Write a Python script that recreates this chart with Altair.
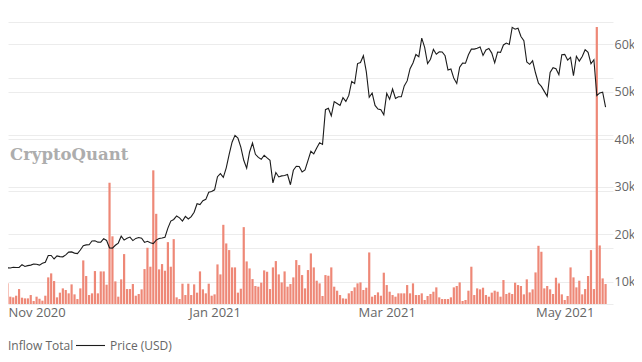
import altair as alt
import pandas as pd

# Daily series, 2020-10-22 .. 2021-05-15
dates = pd.date_range("2020-10-22", "2021-05-15", freq="D").strftime("%Y-%m-%d").tolist()

price_usd = [
    # Oct 22-31
    12965, 12931, 13108, 13031, 13075, 13654, 13272, 13437, 13546, 13781,
    # Nov
    13737, 13550, 13950, 14133, 15579, 15565, 14833, 15479, 15332, 15290,
    15701, 16276, 16317, 16068, 15955, 16716, 17645, 17804, 17817, 18621,
    18642, 18370, 18364, 19107, 18732, 17150, 17108, 17718, 18177, 19625,
    # Dec
    18802, 19201, 19445, 18699, 19154, 19345, 19191, 18321, 18553, 18264,
    18058, 18803, 19142, 19246, 19417, 21310, 22805, 23137, 23869, 23477,
    22803, 23783, 23241, 23735, 24664, 26437, 26272, 27084, 27362, 28840, 29001,
    # Jan
    29374, 32127, 32782, 31971, 33992, 36824, 39371, 40797, 40254, 38356,
    35566, 33922, 37316, 39187, 36825, 36178, 35792, 36630, 36069, 35548,
    30825, 33006, 32068, 32289, 32366, 32570, 30432, 33467, 34316, 34269, 33114,
    # Feb
    33538, 35510, 37472, 36926, 38144, 39266, 38904, 46196, 46481, 44919,
    47910, 47505, 47105, 48717, 47945, 49199, 52149, 51679, 55888, 56100,
    57539, 54207, 48825, 49705, 47093, 46339, 46188, 45137,
    # Mar
    49631, 48378, 50538, 48561, 48927, 48912, 51206, 52246, 54824, 56008,
    57805, 57332, 61243, 59302, 55907, 56804, 58870, 57858, 58346, 58313,
    57524, 54529, 54738, 52775, 51705, 55138, 55974, 55947, 57750, 58918, 58918,
    # Apr
    59095, 59384, 57604, 58759, 59058, 58091, 56048, 58323, 58246, 59793,
    60205, 59893, 63503, 63110, 63315, 61572, 60684, 56216, 55724, 56474,
    53907, 51763, 51094, 50050, 49004, 54022, 55034, 54824, 53555, 57750,
    # May 1-15
    57828, 56631, 57200, 53333, 57424, 56396, 57356, 58803, 58232, 55860,
    56704, 49150, 49716, 49880, 46760,
]

inflow_total = [
    3.66, 1.30, 1.18, 1.47, 2.65, 1.12, 1.00, 1.00, 1.59, 0.53,
    1.30, 0.94, 0.59, 1.47, 4.72, 5.43, 4.07, 1.18, 2.01, 2.77,
    2.48, 1.89, 3.48, 1.71, 0.88, 2.77, 7.73, 4.96, 1.59, 1.89,
    5.84, 1.89, 5.78, 5.78, 3.42, 21.5, 12.0, 4.01, 1.30, 4.37,
    8.85, 2.65, 2.65, 3.54, 1.47, 1.77, 2.60, 6.19, 9.97, 6.61,
    23.7, 15.99, 6.14, 7.08, 5.90, 10.97, 6.61, 11.50, 1.18, 0.88,
    3.60, 1.59, 3.60, 1.59, 3.48, 2.01, 5.78, 2.60, 1.89, 3.60,
    1.47, 1.71, 7.02, 5.25, 14.04, 10.74, 9.56, 6.49, 6.49, 2.01,
    2.71, 13.63, 7.55, 6.31, 4.42, 3.19, 3.07, 3.78, 5.96, 5.72,
    2.65, 6.49, 7.61, 5.25, 3.83, 5.78, 3.07, 3.54, 4.72, 7.79,
    6.90, 5.13, 2.77, 6.02, 8.97, 6.49, 4.13, 3.66,
    1.42, 5.13, 5.01, 6.49, 3.07, 2.36, 1.59, 1.00, 0.94, 1.89,
    2.30, 2.95, 3.66, 3.83, 2.48, 2.89, 9.14, 1.30, 1.59, 2.06,
    1.47, 5.55, 3.36, 2.18, 1.59, 1.30, 1.89, 1.89, 1.89, 3.36,
    1.89, 3.66, 1.59, 1.59, 1.89, 0.71, 1.42, 1.77, 2.18, 2.95,
    1.18, 0.88, 0.88, 0.88, 1.18, 2.95, 3.19, 3.83, 0.53, 0.71,
    2.36, 6.61, 1.59, 2.77, 2.60, 2.89, 1.59, 1.30, 2.01, 2.36,
    2.18, 1.30, 4.25, 1.77, 2.01, 1.77, 3.78, 3.36, 3.19, 1.71,
    4.37, 2.06, 2.60, 5.60, 10.32, 9.26, 2.77, 3.19, 2.60, 1.77,
    4.66, 3.66, 1.71, 0.71, 1.42, 6.49, 4.72, 2.95, 4.13, 1.71,
    2.65, 4.96, 9.56, 2.65, 49.1, 10.38, 4.54, 3.54,
]

price_ticks = [10000, 20000, 30000, 40000, 50000, 60000]
inflow_grid = [0, 10, 20, 30, 40, 50]
legend_labels = ["Inflow Total", "Price (USD)"]
watermark = ["CryptoQuant"]

df = pd.DataFrame({"date": dates, "inflow": inflow_total, "price": price_usd})

FONT = "Open Sans"
GRID = "#ececec"

x_scale = alt.Scale(
    type="utc",
    nice=False,
    domain=[
        alt.DateTime(year=2020, month=10, date=23, hours=22, minutes=5, utc=True),
        alt.DateTime(year=2021, month=5, date=15, hours=20, utc=True),
    ],
)
x_axis = alt.Axis(
    title=None,
    format="%b %Y",
    values=[
        alt.DateTime(year=2020, month=11, date=1, utc=True),
        alt.DateTime(year=2021, month=1, date=1, utc=True),
        alt.DateTime(year=2021, month=3, date=1, utc=True),
        alt.DateTime(year=2021, month=5, date=1, utc=True),
    ],
    grid=False,
    ticks=False,
    domain=False,
    labelPadding=2,
    labelFontSize=13,
    labelFont=FONT,
    labelColor="#666666",
)

bars = alt.Chart(df).mark_bar(color="#EE8877", size=2.2, clip=True).encode(
    x=alt.X("date:T", scale=x_scale, axis=x_axis),
    y=alt.Y(
        "inflow:Q",
        scale=alt.Scale(domain=[0, 50], nice=False, zero=True),
        axis=alt.Axis(
            title=None, values=inflow_grid, labels=False, ticks=False,
            domain=False, grid=True, gridColor=GRID,
        ),
    ),
)

line = alt.Chart(df).mark_line(color="#1c1c1c", strokeWidth=1.1, clip=True).encode(
    x=alt.X("date:T", scale=x_scale, axis=x_axis),
    y=alt.Y(
        "price:Q",
        scale=alt.Scale(domain=[5378, 64622], nice=False, zero=False),
        axis=alt.Axis(
            title=None, orient="right", values=price_ticks,
            labelExpr="datum.value / 1000 + 'k'", ticks=False, domain=False,
            grid=True, gridColor=GRID, labelPadding=1, labelFontSize=12.5,
            labelFont=FONT, labelColor="#666666",
        ),
    ),
)

wm = alt.Chart(pd.DataFrame({"t": watermark})).mark_text(
    align="left", baseline="alphabetic", font="DejaVu Serif", fontWeight="bold",
    fontSize=16.5, color="#adadad",
).encode(text="t:N", x=alt.value(2), y=alt.value(137.5))

leg_df = pd.DataFrame({"t": legend_labels, "px": [0, 102]})
leg_text = alt.Chart(leg_df).mark_text(
    align="left", baseline="middle", font=FONT, fontSize=12, color="#666666",
).encode(text="t:N", x=alt.X("px:Q", scale=None), y=alt.value(323.5))

leg_line = alt.Chart(pd.DataFrame({"t": ["Price (USD)"]})).mark_rule(
    color="#1c1c1c", strokeWidth=1.1
).encode(x=alt.value(68), x2=alt.value(97), y=alt.value(323.5))

chart = (
    alt.layer(bars, line, wm, leg_text, leg_line)
    .resolve_scale(y="independent")
    .properties(
        width=605,
        height=282,
        autosize=alt.AutoSizeParams(type="none"),
        padding={"left": 0, "top": 14, "right": 21, "bottom": 50},
    )
    .configure_view(stroke=None)
)

chart.save("out.html", embed_options={"renderer": "svg", "actions": False})
